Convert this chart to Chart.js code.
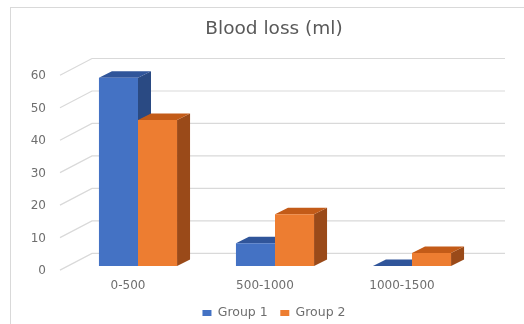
<!DOCTYPE html>
<html lang="en">
<head>
<meta charset="UTF-8">
<title>Blood loss (ml)</title>
<style>
  body { margin: 0; background: #fff; }
  #wrap { width: 524px; height: 324px; position: relative; }
</style>
</head>
<body>
<div id="wrap"><canvas id="chart"></canvas></div>
<script src="https://cdn.jsdelivr.net/npm/chart.js@4.4.0/dist/chart.umd.min.js"></script>
<script>
const categories = ['0-500', '500-1000', '1000-1500'];
const seriesNames = ['Group 1', 'Group 2'];
const group1 = [58, 7, 0];
const group2 = [45, 16, 4];
const yTicks = [0, 10, 20, 30, 40, 50, 60];

// fake 3d depth of the bars
const depth = { dx: 13, dy: -6.5 };

const frame3d = {
    id: 'frame3d',
    beforeDraw(chart) {
        const ctx = chart.ctx;
        ctx.save();
        ctx.strokeStyle = '#d9d9d9';
        ctx.lineWidth = 1;
        ctx.strokeRect(10.5, 7.5, chart.width, chart.height);
        ctx.restore();
    },
    beforeDatasetsDraw(chart) {
        const { ctx, chartArea, scales: { y } } = chart;
        ctx.save();
        // side wall diagonal + back wall gridline
        ctx.strokeStyle = '#d9d9d9';
        ctx.lineWidth = 1.2;
        y.ticks.forEach(t => {
            const p = y.getPixelForValue(t.value);
            ctx.beginPath();
            ctx.moveTo(chartArea.left - 9.5, p + 4);
            ctx.lineTo(chartArea.left + 22.5, p - 12.7);
            ctx.lineTo(chartArea.right + 24.5, p - 12.7);
            ctx.stroke();
        });
        // side and top faces, drawn before the fronts
        chart.data.datasets.forEach((ds, i) => {
            chart.getDatasetMeta(i).data.forEach(bar => {
                const { x, y: top, base, width } = bar.getProps(['x', 'y', 'base', 'width'], true);
                const l = x - width / 2;
                const r = x + width / 2;
                ctx.fillStyle = ds.sideColor;
                ctx.beginPath();
                ctx.moveTo(r, top);
                ctx.lineTo(r + depth.dx, top + depth.dy);
                ctx.lineTo(r + depth.dx, base + depth.dy);
                ctx.lineTo(r, base);
                ctx.closePath();
                ctx.fill();
                ctx.fillStyle = ds.topColor;
                ctx.beginPath();
                ctx.moveTo(l, top);
                ctx.lineTo(l + depth.dx, top + depth.dy);
                ctx.lineTo(r + depth.dx, top + depth.dy);
                ctx.lineTo(r, top);
                ctx.closePath();
                ctx.fill();
            });
        });
        ctx.restore();
    }
};

const ctx = document.getElementById('chart').getContext('2d');
new Chart(ctx, {
    type: 'bar',
    data: {
        labels: categories,
        datasets: [{
            label: seriesNames[0],
            data: group1,
            backgroundColor: '#4472C4',
            topColor: '#30559A',
            sideColor: '#2A4A83',
            yAxisID: 'y'
        }, {
            label: seriesNames[1],
            data: group2,
            backgroundColor: '#ED7D31',
            topColor: '#C35B18',
            sideColor: '#9A4A19',
            yAxisID: 'y'
        }]
    },
    options: {
        responsive: true,
        maintainAspectRatio: false,
        animation: false,
        datasets: {
            bar: { categoryPercentage: 0.57, barPercentage: 1.0 }
        },
        layout: {
            padding: { left: 10, right: -14, top: 8, bottom: -5.2 }
        },
        scales: {
            x: {
                grid: { display: false, drawTicks: false },
                border: { display: false },
                ticks: {
                    color: '#6e6e6e',
                    font: { family: 'DejaVu Sans', size: 12 },
                    padding: 12.8,
                    labelOffset: -10
                },
                afterFit(scale) { scale.height = 28; }
            },
            y: {
                min: yTicks[0],
                max: yTicks[yTicks.length - 1],
                grid: { display: false, drawTicks: false },
                border: { display: false },
                ticks: {
                    stepSize: yTicks[1] - yTicks[0],
                    color: '#6e6e6e',
                    font: { family: 'DejaVu Sans', size: 12 },
                    padding: 23.5,
                    labelOffset: 5
                },
                afterFit(scale) { scale.width = 59.5; }
            },
            y2: {
                position: 'right',
                grid: { display: false, drawTicks: false },
                border: { display: false },
                ticks: { display: false },
                afterFit(scale) { scale.width = 57.5; }
            }
        },
        plugins: {
            title: {
                display: true,
                text: 'Blood loss (ml)',
                color: '#595959',
                font: { family: 'DejaVu Sans', size: 18.5, weight: 'normal' },
                padding: { top: 10, bottom: 31 }
            },
            legend: {
                position: 'bottom',
                labels: {
                    color: '#6e6e6e',
                    font: { family: 'DejaVu Sans', size: 12.5 },
                    boxWidth: 9,
                    boxHeight: 6,
                    padding: 12.6
                }
            },
            tooltip: { enabled: false }
        }
    },
    plugins: [frame3d]
});
</script>
</body>
</html>
